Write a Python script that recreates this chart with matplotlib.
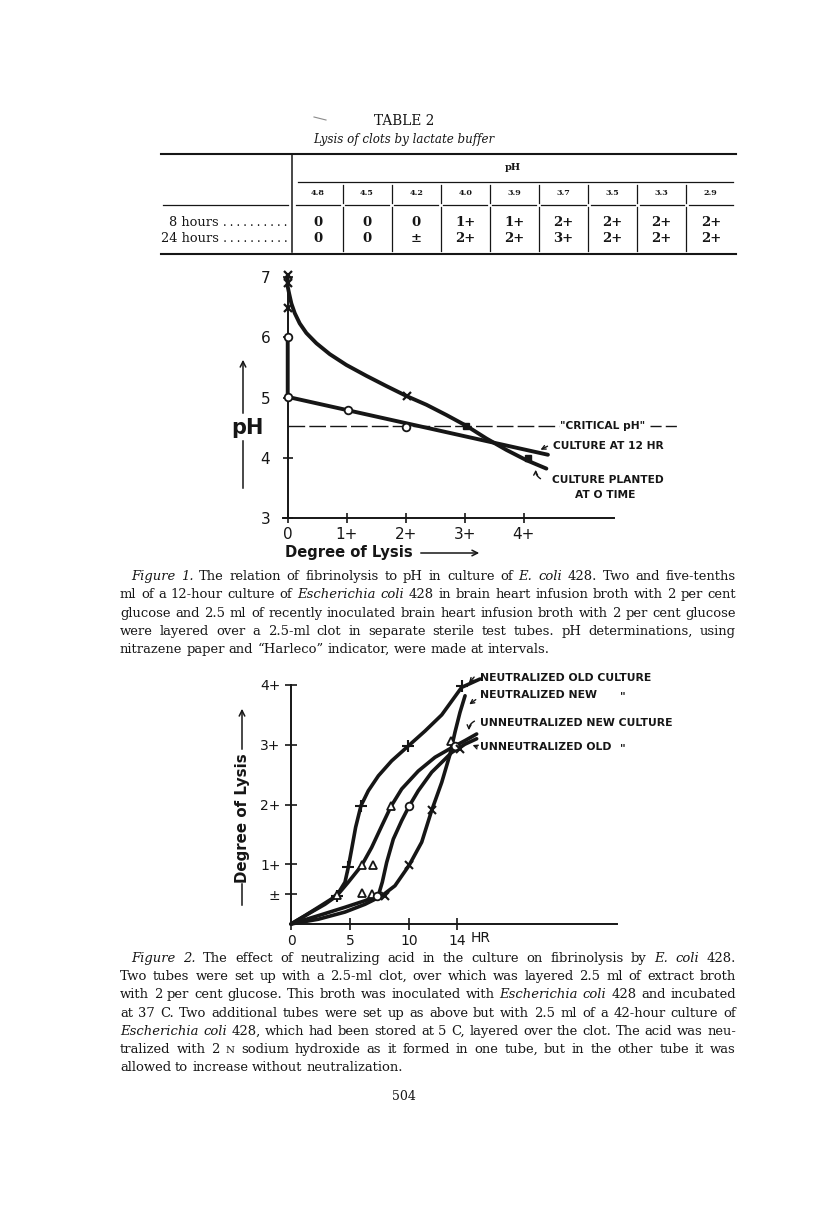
import matplotlib
matplotlib.use('Agg')
import matplotlib.pyplot as plt
from matplotlib import font_manager
from matplotlib.patches import FancyArrowPatch

W, H = 816, 1220
ink = '#161616'

# ---- table 2 data
table_ph = ['4.8', '4.5', '4.2', '4.0', '3.9', '3.7', '3.5', '3.3', '2.9']
lysis_8h = ['0', '0', '0', '1+', '1+', '2+', '2+', '2+', '2+']
lysis_24h = ['0', '0', '±', '2+', '2+', '3+', '2+', '2+', '2+']
row_names = ['8 hours', '24 hours']

# ---- figure 1: pH against degree of lysis
planted_lysis = [0, 0, 0, 2.02, 3.03, 4.07]
planted_ph = [7.03, 6.9, 6.48, 5.02, 4.53, 3.99]
planted_curve_lysis = [0, 0, 0.023, 0.062, 0.119, 0.203, 0.316, 0.486, 0.712, 0.994, 1.333,
                       1.672, 2.023, 2.35, 2.689, 3.028, 3.367, 3.706, 4.045, 4.384]
planted_curve_ph = [7.03, 6.84, 6.73, 6.56, 6.40, 6.23, 6.07, 5.90, 5.72, 5.54, 5.36,
                    5.19, 5.02, 4.88, 4.71, 4.53, 4.32, 4.13, 3.96, 3.82]
hr12_lysis = [0, 0, 1.02, 2.01]
hr12_ph = [6.0, 5.01, 4.80, 4.51]
hr12_line_lysis = [0, 0, 4.41]
hr12_line_ph = [6.0, 5.01, 4.05]
critical_ph = 4.53

# ---- figure 2: degree of lysis against hours
neut_old_hr = [0, 1.18, 2.31, 3.43, 4.0, 4.56, 4.84, 5.12, 5.46, 5.91, 6.53, 7.38, 8.5,
               9.91, 11.32, 12.73, 14.41, 15.96]
neut_old_deg = [0, 0.14, 0.28, 0.42, 0.52, 0.7, 0.95, 1.25, 1.62, 1.98, 2.23, 2.48, 2.73,
                2.98, 3.23, 3.5, 3.96, 4.1]
neut_old_pts_hr = [3.86, 4.84, 5.91, 9.91, 14.41]
neut_old_pts_deg = [0.47, 0.96, 1.98, 2.98, 3.99]

unneut_new_hr = [0, 1.46, 2.87, 3.86, 4.84, 5.97, 6.81, 7.66, 8.45, 9.35, 10.75, 12.16,
                 13.57, 14.7, 15.68]
unneut_new_deg = [0, 0.17, 0.33, 0.47, 0.7, 0.98, 1.28, 1.64, 1.97, 2.26, 2.56, 2.79,
                  2.95, 3.07, 3.18]
unneut_new_pts_hr = [3.86, 5.97, 6.95, 5.97, 6.8, 8.45, 13.49]
unneut_new_pts_deg = [0.49, 0.98, 0.98, 0.52, 0.5, 1.97, 3.07]

unneut_old_hr = [0, 2.31, 4.56, 6.25, 7.38, 7.71, 8.08, 8.64, 9.35, 9.97, 10.75, 11.88,
                 13.01, 13.57, 14.7, 15.68]
unneut_old_deg = [0, 0.14, 0.28, 0.39, 0.48, 0.7, 1.03, 1.42, 1.73, 1.97, 2.23, 2.54,
                  2.76, 2.87, 3.01, 3.1]
unneut_old_pts_hr = [7.24, 9.97, 13.85]
unneut_old_pts_deg = [0.47, 1.98, 2.98]

neut_new_hr = [0, 2.31, 4.56, 6.25, 7.66, 8.78, 9.97, 11.04, 11.88, 12.73, 13.43, 13.85,
               14.27, 14.7]
neut_new_deg = [0, 0.08, 0.2, 0.33, 0.47, 0.64, 0.98, 1.37, 1.9, 2.37, 2.84, 3.21, 3.54, 3.82]
neut_new_pts_hr = [7.94, 9.97, 11.88, 14.27]
neut_new_pts_deg = [0.47, 0.99, 1.91, 2.93]

# ---- captions ("/" marks italic words, "^" small capitals)
caption1 = [
    "/Figure /1. The relation of fibrinolysis to pH in culture of /E. /coli 428. Two and five-tenths",
    "ml of a 12-hour culture of /Escherichia /coli 428 in brain heart infusion broth with 2 per cent",
    "glucose and 2.5 ml of recently inoculated brain heart infusion broth with 2 per cent glucose",
    "were layered over a 2.5-ml clot in separate sterile test tubes. pH determinations, using",
    "nitrazene paper and \u201cHarleco\u201d indicator, were made at intervals.",
]
caption2 = [
    "/Figure /2. The effect of neutralizing acid in the culture on fibrinolysis by /E. /coli 428.",
    "Two tubes were set up with a 2.5-ml clot, over which was layered 2.5 ml of extract broth",
    "with 2 per cent glucose. This broth was inoculated with /Escherichia /coli 428 and incubated",
    "at 37 C. Two additional tubes were set up as above but with 2.5 ml of a 42-hour culture of",
    "/Escherichia /coli 428, which had been stored at 5 C, layered over the clot. The acid was neu-",
    "tralized with 2 ^N sodium hydroxide as it formed in one tube, but in the other tube it was",
    "allowed to increase without neutralization.",
]

names = {f.name for f in font_manager.fontManager.ttflist}
hand = 'Liberation Sans Narrow' if 'Liberation Sans Narrow' in names else 'DejaVu Sans'
serif = 'DejaVu Serif'

fig = plt.figure(figsize=(W / 100, H / 100), dpi=100)
fig.patch.set_facecolor('white')
renderer = fig.canvas.get_renderer()


def put(x, y, s, **kw):
    kw.setdefault('color', ink)
    return fig.text(x / W, 1 - y / H, s, **kw)


def seg(x0, y0, x1, y1, lw=1.0, **kw):
    fig.add_artist(plt.Line2D([x0 / W, x1 / W], [1 - y0 / H, 1 - y1 / H],
                              transform=fig.transFigure, color=ink, lw=lw, **kw))


def arrow(x0, y0, x1, y1, rad=0.0, lw=1.0, scale=7):
    fig.add_artist(FancyArrowPatch((x0 / W, 1 - y0 / H), (x1 / W, 1 - y1 / H),
                                   transform=fig.transFigure, arrowstyle='->',
                                   mutation_scale=scale, lw=lw, color=ink,
                                   connectionstyle=f'arc3,rad={rad}'))


def width(t):
    return t.get_window_extent(renderer).width


def fit(t, w):
    t.set_fontsize(t.get_fontsize() * w / width(t))
    return t


def paragraph(lines, y0, dy, x0, x1, indent, size=9.0):
    rows = []
    for i, line in enumerate(lines):
        left = x0 + (indent if i == 0 else 0)
        arts = []
        for w in line.split(' '):
            style, fs = 'normal', size
            if w.startswith('/'):
                style, w = 'italic', w[1:]
            if w.startswith('^'):
                fs, w = size * 0.78, w[1:]
            arts.append(put(left, y0 + i * dy, w, fontsize=fs, style=style, family=serif,
                            va='baseline', ha='left'))
        rows.append((left, arts))
    # largest size at which every full line still fits with ordinary spaces
    space = size * 0.3 * 100 / 72
    k = min((x1 - left) / (sum(width(a) for a in arts) + space * (len(arts) - 1))
            for left, arts in rows[:-1]) * 0.99
    for left, arts in rows:
        for a in arts:
            a.set_fontsize(a.get_fontsize() * k)
    for i, (left, arts) in enumerate(rows):
        ws = [width(a) for a in arts]
        if i == len(rows) - 1:
            gap = space * k
        else:
            gap = (x1 - left - sum(ws)) / (len(arts) - 1)
        x = left
        for a, wd in zip(arts, ws):
            a.set_x(x / W)
            x += wd + gap


# ================= TABLE 2 =================
put(404, 121, 'TABLE 2', family=serif, fontsize=9.8, ha='center', va='center')
put(404, 140, 'Lysis of clots by lactate buffer', family=serif, style='italic',
    fontsize=8.6, ha='center', va='center')
seg(314, 117, 326, 120, lw=0.8, alpha=0.5)

seg(161, 153.5, 736, 153.5, lw=1.5)
seg(161, 254, 736, 254, lw=1.5)
seg(291.7, 155, 291.7, 252, lw=1.1)
put(513, 168, 'pH', family=serif, fontsize=7, weight='bold', ha='center', va='center')
seg(298, 182, 733, 182, lw=0.9)
seg(163, 204.5, 288, 204.5, lw=0.9)

col0, colw = 318.0, 49.1
for i, ph in enumerate(table_ph):
    cx = col0 + colw * i
    put(cx, 193, ph, family=serif, fontsize=5.8, weight='bold', ha='center', va='center')
    seg(cx - colw / 2 + 2.5, 204.5, cx + colw / 2 - 2.5, 204.5, lw=0.9)
    put(cx, 222, lysis_8h[i], family=serif, fontsize=9.5, weight='bold', ha='center', va='center')
    put(cx, 238, lysis_24h[i], family=serif, fontsize=9.5, weight='bold', ha='center', va='center')
    if i < len(table_ph) - 1:
        sx = cx + colw / 2
        seg(sx, 185, sx, 203, lw=0.9)
        seg(sx, 207, sx, 251, lw=0.9)

for name, y, x_left in [(row_names[0], 222, 168), (row_names[1], 238, 161)]:
    t = put(288, y, name, family=serif, fontsize=9.3, ha='right', va='center')
    base = width(t)
    d = put(0, 0, '.\u2009', family=serif, fontsize=9.3)
    dot = width(d)
    d.remove()
    n = int((288 - x_left - base) / dot)
    t.set_text(name + ' ' + '.\u2009' * (n - 1) + '.')

# ================= FIGURE 1 =================
ax1 = fig.add_axes([283 / W, 1 - 518 / H, (614 - 283) / W, (518 - 277) / H])
ax1.set_facecolor('none')
ax1.set_xlim(-0.08, 5.53)
ax1.set_ylim(3, 7)
for s in ['top', 'right']:
    ax1.spines[s].set_visible(False)
ax1.spines['left'].set_position(('data', 0))
for s in ['left', 'bottom']:
    ax1.spines[s].set_linewidth(1.4)
    ax1.spines[s].set_color(ink)
ax1.set_yticks([3, 4, 5, 6, 7], ['3', '4', '5', '6', '7'])
ax1.set_xticks([0, 1, 2, 3, 4], ['0', '1+', '2+', '3+', '4+'])
ax1.tick_params(axis='y', direction='inout', length=7, width=1.2, pad=9,
                labelsize=11, colors=ink)
ax1.tick_params(axis='x', direction='inout', length=7, width=1.2, pad=3,
                labelsize=11, colors=ink)
for lab in ax1.get_xticklabels() + ax1.get_yticklabels():
    lab.set_family(hand)

ax1.plot(planted_curve_lysis, planted_curve_ph, color=ink, lw=2.8, clip_on=False,
         solid_capstyle='round', solid_joinstyle='round')
ax1.plot(hr12_line_lysis, hr12_line_ph, color=ink, lw=2.8, clip_on=False,
         solid_capstyle='round')
ax1.plot(planted_lysis[:4], planted_ph[:4], 'x', color=ink, ms=6, mew=1.6, clip_on=False)
ax1.plot(planted_lysis[4:], planted_ph[4:], 's', color=ink, ms=5, clip_on=False)
ax1.plot(hr12_lysis, hr12_ph, 'o', color=ink, mfc='white', ms=5.5, mew=1.3,
         clip_on=False, zorder=5)
ax1.plot([0, 4.6], [critical_ph, critical_ph], color=ink, lw=1.0, dashes=(12, 3), clip_on=False)
ax1.plot([6.14, 6.65], [critical_ph, critical_ph], color=ink, lw=1.0, dashes=(8, 3), clip_on=False)

lab12 = fit(put(553, 446, 'CULTURE AT 12 HR', family=hand, weight='bold', fontsize=8,
                ha='left', va='center'), 110)
lab_fs = lab12.get_fontsize()
put(560, 426, '"CRITICAL pH"', family=hand, weight='bold', fontsize=lab_fs, ha='left', va='center')
put(552, 480, 'CULTURE PLANTED', family=hand, weight='bold', fontsize=lab_fs, ha='left', va='center')
put(575, 495, 'AT O TIME', family=hand, weight='bold', fontsize=lab_fs, ha='left', va='center')
arrow(550, 445, 538, 451)
arrow(543, 480, 536, 467, rad=-0.4)

put(247, 428, 'pH', family=hand, weight='bold', fontsize=15, ha='center', va='center')
seg(243, 488, 243, 441, lw=1.1)
arrow(243, 416, 243, 357, lw=1.1, scale=10)
fit(put(285, 553, 'Degree of Lysis', family=hand, weight='bold', fontsize=12,
        ha='left', va='center'), 127)
arrow(418, 553, 482, 553, lw=1.1, scale=10)

# ================= FIGURE 2 =================
ax2 = fig.add_axes([291 / W, 1 - 924 / H, (616.6 - 291) / W, (924 - 685) / H])
ax2.set_facecolor('none')
ax2.set_xlim(0, 27.5)
ax2.set_ylim(0, 4)
for s in ['top', 'right']:
    ax2.spines[s].set_visible(False)
for s in ['left', 'bottom']:
    ax2.spines[s].set_linewidth(1.4)
    ax2.spines[s].set_color(ink)
ax2.set_yticks([0.5, 1, 2, 3, 4], ['±', '1+', '2+', '3+', '4+'])
ax2.set_xticks([0, 5, 10, 14], ['0', '5', '10', '14'])
ax2.tick_params(axis='y', direction='inout', length=9, width=1.2, pad=3,
                labelsize=10, colors=ink)
ax2.tick_params(axis='x', direction='inout', length=8, width=1.2, pad=3,
                labelsize=10, colors=ink)
for lab in ax2.get_xticklabels() + ax2.get_yticklabels():
    lab.set_family(hand)
put(481, 938, 'HR', family=hand, fontsize=10, ha='center', va='center')

for xs, ys in [(neut_old_hr, neut_old_deg), (unneut_new_hr, unneut_new_deg),
               (unneut_old_hr, unneut_old_deg), (neut_new_hr, neut_new_deg)]:
    ax2.plot(xs, ys, color=ink, lw=2.6, clip_on=False,
             solid_capstyle='round', solid_joinstyle='round')
ax2.plot(neut_old_pts_hr, neut_old_pts_deg, '+', color=ink, ms=8, mew=1.5, clip_on=False, zorder=5)
ax2.plot(unneut_new_pts_hr, unneut_new_pts_deg, '^', color=ink, mfc='white', ms=6, mew=1.3,
         clip_on=False, zorder=5)
ax2.plot(unneut_old_pts_hr, unneut_old_pts_deg, 'o', color=ink, mfc='white', ms=5.5, mew=1.3,
         clip_on=False, zorder=5)
ax2.plot(neut_new_pts_hr, neut_new_pts_deg, 'x', color=ink, ms=6, mew=1.5, clip_on=False, zorder=5)

t_old = fit(put(480, 678, 'NEUTRALIZED OLD CULTURE', family=hand, weight='bold', fontsize=8,
                ha='left', va='center'), 172)
fs2 = t_old.get_fontsize()
put(480, 695, 'NEUTRALIZED NEW', family=hand, weight='bold', fontsize=fs2, ha='left', va='center')
put(480, 723, 'UNNEUTRALIZED NEW CULTURE', family=hand, weight='bold', fontsize=fs2,
    ha='left', va='center')
put(480, 747, 'UNNEUTRALIZED OLD', family=hand, weight='bold', fontsize=fs2, ha='left', va='center')
put(623, 696, '"', family=hand, weight='bold', fontsize=fs2, ha='center', va='center')
put(623, 748, '"', family=hand, weight='bold', fontsize=fs2, ha='center', va='center')
arrow(476, 675, 467, 685)
arrow(478, 698, 467, 706)
arrow(477, 720, 469, 733, rad=0.4)
arrow(480, 748, 470, 744)

yl = put(242, 818, 'Degree of Lysis', family=hand, weight='bold', fontsize=12,
         rotation=90, ha='center', va='center')
yl.set_fontsize(yl.get_fontsize() * 130 / yl.get_window_extent(renderer).height)
seg(242, 905, 242, 884, lw=1.1)
arrow(242, 752, 242, 706, lw=1.1, scale=10)

# ================= CAPTIONS =================
paragraph(caption1, 580, 18.3, 120, 736, 11)
paragraph(caption2, 962, 18.2, 120, 736, 11)
put(404, 1097, '504', family=serif, fontsize=9, ha='center', va='center')

fig.savefig('out.png', dpi=100, facecolor='white')
